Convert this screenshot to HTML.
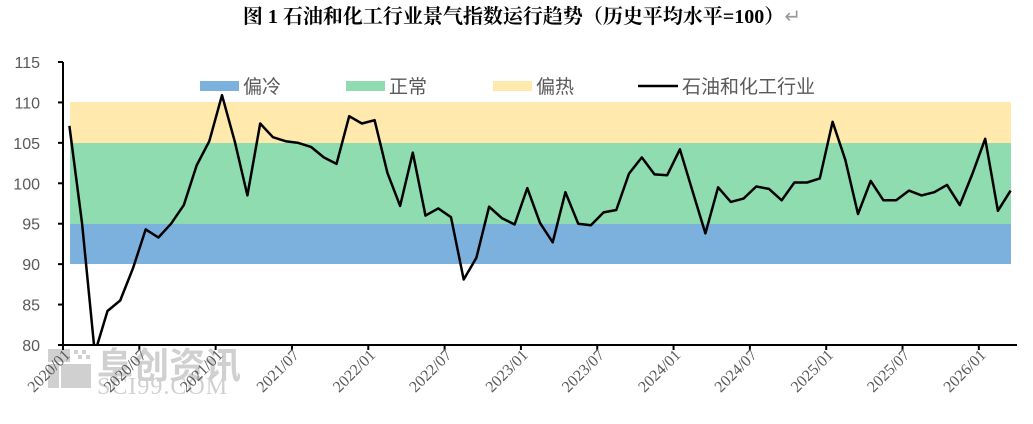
<!DOCTYPE html>
<html><head><meta charset="utf-8"><style>
html,body{margin:0;padding:0;background:#fff;}
svg{display:block;}
</style></head><body>
<svg id="s" width="1033" height="424" xmlns="http://www.w3.org/2000/svg">
<text x="522" y="23" text-anchor="middle" font-family="'Liberation Serif','Noto Serif CJK SC',serif" font-weight="bold" font-size="20" fill="#000">图 1  石油和化工行业景气指数运行趋势（历史平均水平=100）<tspan fill="#999" font-weight="normal">↵</tspan></text>
<!-- watermark -->
<g fill="#d0d0d0">
<rect x="48" y="349" width="22" height="13"/><rect x="48" y="364" width="11" height="24"/><rect x="61" y="364" width="30" height="24"/>
<rect x="74" y="350" width="4" height="4"/><rect x="82" y="350" width="4" height="4"/><rect x="78" y="355" width="4" height="4"/><rect x="86" y="355" width="4" height="4"/>
<text x="97" y="378" font-family="'Noto Sans CJK SC',sans-serif" font-size="36" font-weight="bold">阜创资讯</text>
<text x="97" y="394" font-family="'Liberation Serif',serif" font-size="24" letter-spacing="1">SCI99.COM</text>
</g>
<rect x="70" y="102" width="941" height="41" fill="#ffe9ad"/>
<rect x="70" y="143" width="941" height="81" fill="#8edcb0"/>
<rect x="70" y="224" width="941" height="40" fill="#7cb1de"/>
<g id="ax" stroke="#000" stroke-width="2" fill="none"></g>
<g id="yl" font-family="'Liberation Sans',sans-serif" font-size="16" fill="#595959" text-anchor="end"></g>
<g id="xl" font-family="'Liberation Serif',serif" font-size="16" fill="#595959" text-anchor="end"></g>
<clipPath id="c"><rect x="63" y="55" width="970" height="290"/></clipPath>
<polyline id="ln" clip-path="url(#c)" fill="none" stroke="#000" stroke-width="2.5" stroke-linejoin="round"/>
<g font-family="'Liberation Sans','Noto Sans CJK SC',sans-serif" font-size="19" fill="#595959">
<rect x="200" y="81" width="39" height="10" fill="#7cb1de"/><text x="243" y="93">偏冷</text>
<rect x="346" y="81" width="39" height="10" fill="#8edcb0"/><text x="389" y="93">正常</text>
<rect x="493" y="81" width="39" height="10" fill="#ffe9ad"/><text x="536" y="93">偏热</text>
<line x1="638" y1="86" x2="678" y2="86" stroke="#000" stroke-width="2.5"/><text x="682" y="93">石油和化工行业</text>
</g>
</svg>
<script>
var d=[107.1,95,79,84.2,85.5,89.5,94.3,93.3,95,97.3,102.2,105.2,110.9,105.2,98.5,107.4,105.7,105.2,105,104.5,103.2,102.4,108.3,107.4,107.8,101.3,97.2,103.8,96,96.9,95.8,88.1,90.8,97.1,95.7,94.9,99.4,95.1,92.7,98.9,95,94.8,96.4,96.7,101.2,103.2,101.1,101,104.2,99,93.8,99.5,97.7,98.1,99.6,99.3,97.9,100.1,100.1,100.6,107.6,102.9,96.2,100.3,97.9,97.9,99.1,98.5,98.9,99.8,97.3,101.2,105.5,96.6,99.1];
var X=function(i){return 63+12.72*(i+0.5)},Y=function(v){return 345-(v-80)*283/35};
document.getElementById('ln').setAttribute('points',d.map(function(v,i){return X(i).toFixed(1)+','+Y(v).toFixed(1)}).join(' '));
var ns='http://www.w3.org/2000/svg',ax=document.getElementById('ax'),yl=document.getElementById('yl'),xl=document.getElementById('xl');
function el(p,t,a,txt){var e=document.createElementNS(ns,t);for(var k in a)e.setAttribute(k,a[k]);if(txt)e.textContent=txt;p.appendChild(e);}
el(ax,'line',{x1:63,y1:62,x2:63,y2:346});el(ax,'line',{x1:62,y1:345,x2:1017,y2:345});
for(var v=80;v<=115;v+=5){var y=Y(v);el(ax,'line',{x1:58,y1:y,x2:63,y2:y});el(yl,'text',{x:40,y:y+6},String(v));}
var labs=['2020/01','2020/07','2021/01','2021/07','2022/01','2022/07','2023/01','2023/07','2024/01','2024/07','2025/01','2025/07','2026/01'];
labs.forEach(function(l,k){var x=63+12.72*6*k;el(ax,'line',{x1:x,y1:345,x2:x,y2:350});el(xl,'text',{x:x+8,y:356,transform:'rotate(-45 '+(x+8)+' 356)'},l);});
</script>
</body></html>
